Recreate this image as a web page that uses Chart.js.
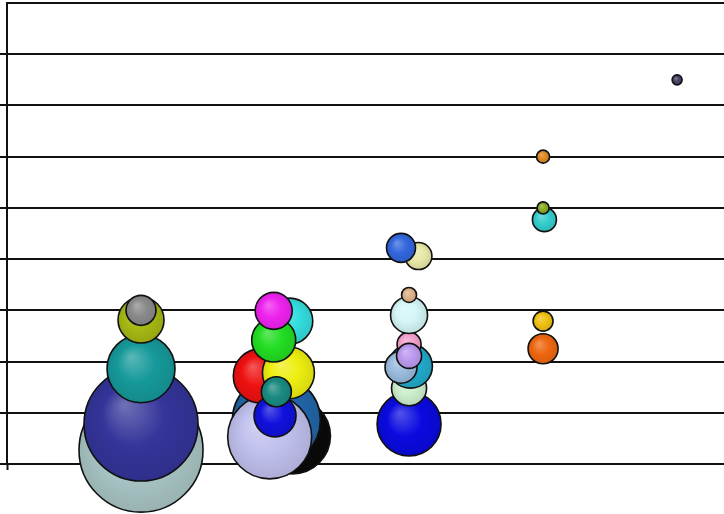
<!DOCTYPE html>
<html>
<head>
<meta charset="utf-8">
<script src="https://cdn.jsdelivr.net/npm/chart.js@4.4.1/dist/chart.umd.min.js"></script>
<style>
html,body{margin:0;padding:0;background:#fff;}
canvas{display:block;}
</style>
</head>
<body>
<canvas id="c" width="724" height="514"></canvas>
<script>
// Category positions (x), values (y) and bubble sizes, listed back-to-front
const xValues = [
  1.0, 1.0, 1.0, 1.0, 1.0,
  2.13, 2.01, 1.96, 1.89, 2.10, 2.0, 2.01, 2.11, 1.99, 1.99,
  3.0, 3.0, 3.01, 2.94, 3.0, 3.0, 3.0, 3.0, 3.07, 2.94,
  4.0, 4.0, 4.01, 4.0, 4.0,
  5.0
];
const yValues = [
  0.27, 0.78, 1.86, 2.81, 3.0,
  0.55, 0.86, 0.53, 1.72, 1.78, 0.94, 1.41, 2.79, 2.42, 2.99,
  0.78, 1.48, 1.91, 1.89, 2.34, 2.11, 2.91, 3.30, 4.06, 4.22,
  2.25, 2.79, 4.77, 5.0, 6.0,
  7.5
];
const bubbleSizes = [
  62, 57, 34, 23, 15,
  38, 44, 42, 27, 26, 21, 15, 23, 22, 18.5,
  32, 17.5, 22, 16, 12, 12.5, 18.5, 7.5, 13.5, 14.5,
  15, 10, 12, 6, 6.5,
  5
];
const palette = [
  '#aac6c6', '#34349a', '#16999a', '#a6b814', '#8a8a8a',
  '#0a0a0a', '#2266aa', '#c0c0ee', '#ee1111', '#eeee11', '#1111dd', '#1a8a80', '#33dddd', '#22dd22', '#ee22ee',
  '#0a0ae0', '#cceecc', '#22aacc', '#99bbdd', '#f0a0cc', '#bb99ee', '#d4f6f6', '#ddb088', '#e8e8a8', '#3366dd',
  '#ee6611', '#eec011', '#33cccc', '#88aa22', '#dd8822',
  '#444466'
];
const yTicks = [0,1,2,3,4,5,6,7,8,9];

const points = xValues.map((x, i) => ({x: x, y: yValues[i], r: bubbleSizes[i]}));

function shade(hex, f) {
  const n = parseInt(hex.slice(1), 16);
  let r = (n >> 16) & 255, g = (n >> 8) & 255, b = n & 255;
  if (f >= 0) { r += (255 - r) * f; g += (255 - g) * f; b += (255 - b) * f; }
  else { r *= (1 + f); g *= (1 + f); b *= (1 + f); }
  return 'rgb(' + Math.round(r) + ',' + Math.round(g) + ',' + Math.round(b) + ')';
}

function sphereFill(ctx) {
  const i = ctx.dataIndex;
  const base = palette[i];
  const chart = ctx.chart;
  if (ctx.type !== 'data' || !chart.scales || !chart.scales.x || !chart.chartArea) return base;
  const cx = chart.scales.x.getPixelForValue(xValues[i]);
  const cy = chart.scales.y.getPixelForValue(yValues[i]);
  const r = bubbleSizes[i];
  if (!isFinite(cx) || !isFinite(cy)) return base;
  const g = chart.ctx.createRadialGradient(cx - r * 0.3, cy - r * 0.35, 0, cx, cy, r);
  g.addColorStop(0, shade(base, 0.3));
  g.addColorStop(0.55, base);
  g.addColorStop(1, shade(base, -0.1));
  return g;
}

new Chart(document.getElementById('c'), {
  type: 'bubble',
  data: {
    datasets: [{
      data: points,
      backgroundColor: sphereFill,
      borderColor: '#111111',
      borderWidth: 1.6,
      hoverBorderWidth: 1.6,
      clip: false
    }]
  },
  options: {
    responsive: false,
    animation: false,
    devicePixelRatio: 1,
    events: [],
    layout: { autoPadding: false, padding: { top: 3, right: 0, bottom: 44, left: 0 } },
    plugins: { legend: { display: false }, tooltip: { enabled: false } },
    scales: {
      x: {
        type: 'linear',
        min: 0,
        max: 5.35,
        ticks: { display: false, stepSize: 1 },
        grid: {
          drawOnChartArea: false,
          drawTicks: true,
          tickLength: 6,
          tickWidth: 2,
          tickColor: (c) => (c.tick && c.tick.value === 0 ? '#111111' : 'rgba(0,0,0,0)')
        },
        border: { display: false }
      },
      y: {
        type: 'linear',
        min: yTicks[0],
        max: yTicks[yTicks.length - 1],
        afterBuildTicks: (s) => { s.ticks = yTicks.map(v => ({value: v})); },
        ticks: { display: false },
        grid: {
          color: '#111111',
          lineWidth: 2,
          drawTicks: true,
          tickLength: 7,
          tickWidth: 2,
          tickColor: (c) => (c.tick && c.tick.value === 9 ? 'rgba(0,0,0,0)' : '#111111')
        },
        border: { display: true, color: '#111111', width: 2 }
      }
    }
  }
});
</script>
</body>
</html>
